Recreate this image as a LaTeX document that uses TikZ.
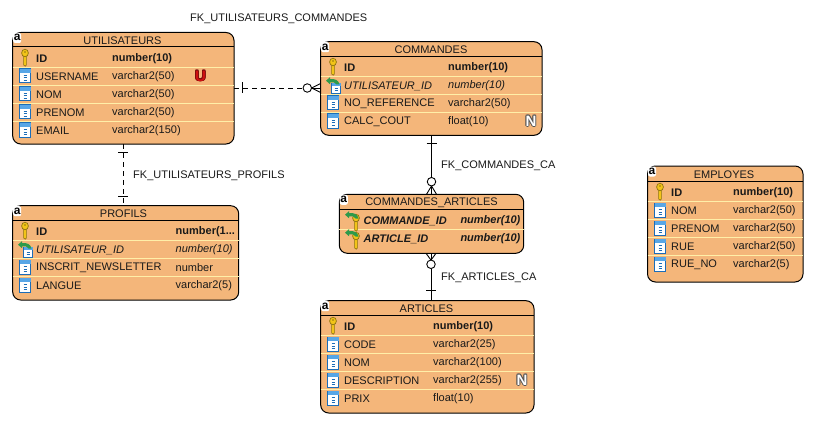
\documentclass[tikz,border=0pt]{standalone}
\usepackage{fontspec}
\setmainfont{Liberation Sans}
\usetikzlibrary{calc}
\definecolor{tblfill}{HTML}{F4B67A}
\definecolor{sepc}{HTML}{FFEFA8}
\definecolor{txt}{HTML}{1A1A1A}
\definecolor{keyf}{HTML}{F2C418}
\definecolor{keyd}{HTML}{8F7410}
\definecolor{colb}{HTML}{1C6DB8}
\definecolor{colh}{HTML}{58A6E6}
\definecolor{gr}{HTML}{2E9A4A}
\definecolor{redm}{HTML}{D01010}
\definecolor{redd}{HTML}{7A0A0A}
\definecolor{grayd}{HTML}{555555}
\tikzset{
  tbl/.style={draw=black,line width=1pt,fill=tblfill,rounded corners=8pt,anchor=north west,inner sep=0pt,outer sep=0pt},
  celltxt/.style={anchor=west,inner sep=0pt,text=txt,font=\fontsize{11}{13}\selectfont},
  cellbold/.style={celltxt,font=\fontsize{11}{13}\selectfont\bfseries},
  cellit/.style={celltxt,font=\fontsize{11}{13}\selectfont\itshape},
  cellbi/.style={celltxt,font=\fontsize{11}{13}\selectfont\bfseries\itshape},
  ttl/.style={anchor=center,inner sep=0pt,text=txt,font=\fontsize{11}{13}\selectfont},
  fklabel/.style={anchor=west,inner sep=0pt,text=txt,font=\fontsize{11}{13}\selectfont},
  conn/.style={line width=.9pt,black},
  dconn/.style={conn,dash pattern=on 5pt off 4pt},
  ring/.style={circle,draw=black,line width=.9pt,minimum size=8.5pt,inner sep=0pt,outer sep=0pt,fill=white},
  markfont/.style={anchor=center,inner sep=0pt,font=\fontsize{15}{16}\selectfont\bfseries},
}
\newcounter{nn}
\newcommand{\cellt}[4]{\stepcounter{nn}\node[#1] (n\thenn) at (#2,#3+1) {#4};}
\newcommand{\tabl}[5]{% name x y w h
  \node[tbl,minimum width=#4pt,minimum height=#5pt] (#1) at (#2,#3) {};
  \fill[white,rounded corners=2pt] (#2+.5,#3+.5) rectangle (#2+8.5,#3+10.5);
  \stepcounter{nn}\node[anchor=center,inner sep=0pt,text=black,font=\fontsize{12}{13}\selectfont\bfseries] (n\thenn) at (#2+4.5,#3+5.2) {a};
}
\newcommand{\hsep}[2]{\draw[sepc,line width=1pt] (#1.west |- 0,#2) -- (#1.east |- 0,#2);}
\newcommand{\hhead}[2]{\draw[black,line width=1pt] (#1.west |- 0,#2) -- (#1.east |- 0,#2);}
\newcommand{\keyicon}[2]{\begin{scope}[shift={(#1,#2)}]
  \draw[keyd,fill=keyf,line width=.6pt] (-1.4,-3) -- (-1.4,7) -- (.2,8.2) -- (1.4,7) -- (1.4,-3) ;
  \draw[keyd,fill=keyf,line width=.7pt] (0,-5) ellipse (3.4 and 3.8);
  \fill[keyd] (0,-6) circle (.9);
\end{scope}}
\newcommand{\colicon}[2]{\begin{scope}[shift={(#1,#2)}]
  \draw[colb,fill=white,line width=1pt] (-5.5,-7) rectangle (5.5,7);
  \fill[colh] (-5.5,-7) rectangle (5.5,-3);
  \draw[colb,line width=1pt] (-1.5,-.5)--(1.5,-.5) (-1.5,2)--(1.5,2) (-1.5,4.5)--(1.5,4.5);
\end{scope}}
\newcommand{\grarrow}[2]{\begin{scope}[shift={(#1,#2)}]
  \fill[gr] (-7,-4.3) -- (-3,-7.8) -- (-3,-5.8) .. controls (2,-6.5) and (5.5,-5) .. (6.5,-.5) -- (3.5,-.5) .. controls (2.5,-2.8) and (0,-3.2) .. (-3,-2.6) -- (-3,-.8) -- cycle;
\end{scope}}
\newcommand{\fkicon}[2]{\begin{scope}[shift={(#1,#2)}]
  \draw[colb,fill=white,line width=.8pt] (-1.5,-2) rectangle (7.5,8);
  \fill[colh] (-1.5,-2) rectangle (7.5,1);
  \draw[colb,line width=.9pt] (1.5,3.2)--(4.5,3.2) (1.5,5.5)--(4.5,5.5);
\end{scope}\grarrow{#1}{#2}}
\newcommand{\fkkey}[2]{\keyicon{#1+1}{#2+3}\grarrow{#1-3}{#2-1}}
\newcommand{\markU}[2]{\foreach \dx/\dy in {-.8/0,.8/0,0/-.8,0/.8,-.6/-.6,.6/-.6,-.6/.6,.6/.6}{\node[markfont,text=redd] at (#1+\dx,#2+\dy) {U};}
  \stepcounter{nn}\node[markfont,text=redm] (n\thenn) at (#1,#2) {U};}
\newcommand{\markN}[2]{\foreach \dx/\dy in {-.9/0,.9/0,0/-.9,0/.9,-.7/-.7,.7/-.7,-.7/.7,.7/.7}{\node[markfont,text=grayd] at (#1+\dx,#2+\dy) {N};}
  \stepcounter{nn}\node[markfont,text=white] (n\thenn) at (#1,#2) {N};}
\begin{document}
\begin{tikzpicture}[x=1pt,y=-1pt]
\useasboundingbox (0,0) rectangle (821,433);
\coordinate (vA) at (123,0); \coordinate (hB) at (0,88); \coordinate (vC) at (431.5,0); \coordinate (vD) at (431,0);

% UTILISATEURS
\tabl{util}{12.7}{32.5}{221.3}{111.5}
\hhead{util}{47} \hsep{util}{67.5} \hsep{util}{85.5} \hsep{util}{103.5} \hsep{util}{121.5}
\cellt{ttl}{122.5}{40}{UTILISATEURS}
\keyicon{25}{58}\colicon{25}{76}\colicon{25}{94}\colicon{25}{112}\colicon{25}{130}
\cellt{cellbold}{36}{58}{ID}\cellt{cellbold}{112}{58}{number(10)}
\cellt{celltxt}{36}{76}{USERNAME}\cellt{celltxt}{112}{76}{varchar2(50)}
\cellt{celltxt}{36}{94}{NOM}\cellt{celltxt}{112}{94}{varchar2(50)}
\cellt{celltxt}{36}{112}{PRENOM}\cellt{celltxt}{112}{112}{varchar2(50)}
\cellt{celltxt}{36}{130}{EMAIL}\cellt{celltxt}{112}{130}{varchar2(150)}
\markU{200.5}{76}

% COMMANDES
\tabl{cmd}{320.7}{41.7}{221.3}{93.6}
\hhead{cmd}{56.3} \hsep{cmd}{76.3} \hsep{cmd}{94.3} \hsep{cmd}{112.3}
\cellt{ttl}{431}{49}{COMMANDES}
\keyicon{333}{67}\fkicon{333}{85}\colicon{333}{103}\colicon{333}{121}
\cellt{cellbold}{344}{67}{ID}\cellt{cellbold}{448}{67}{number(10)}
\cellt{cellit}{344}{85}{UTILISATEUR\_ID}\cellt{cellit}{448}{85}{number(10)}
\cellt{celltxt}{344}{103}{NO\_REFERENCE}\cellt{celltxt}{448}{103}{varchar2(50)}
\cellt{celltxt}{344}{121}{CALC\_COUT}\cellt{celltxt}{448}{121}{float(10)}
\markN{531}{121}

% COMMANDES_ARTICLES
\tabl{ca}{339.3}{194.3}{184.4}{59}
\hhead{ca}{209.3} \hsep{ca}{229}
\cellt{ttl}{431.5}{202}{COMMANDES\_ARTICLES}
\fkkey{355}{220}\fkkey{355}{238}
\cellt{cellbi}{363.5}{220}{COMMANDE\_ID}\cellt{cellbi}{460.3}{220}{number(10)}
\cellt{cellbi}{363.5}{238}{ARTICLE\_ID}\cellt{cellbi}{460.3}{238}{number(10)}

% ARTICLES
\tabl{art}{320.7}{300.7}{213.3}{112.3}
\hhead{art}{315.5} \hsep{art}{335.5} \hsep{art}{353.5} \hsep{art}{371.5} \hsep{art}{389.5}
\cellt{ttl}{426.5}{308}{ARTICLES}
\keyicon{333}{326}\colicon{333}{344}\colicon{333}{362}\colicon{333}{380}\colicon{333}{398}
\cellt{cellbold}{344}{326}{ID}\cellt{cellbold}{433}{326}{number(10)}
\cellt{celltxt}{344}{344}{CODE}\cellt{celltxt}{433}{344}{varchar2(25)}
\cellt{celltxt}{344}{362}{NOM}\cellt{celltxt}{433}{362}{varchar2(100)}
\cellt{celltxt}{344}{380}{DESCRIPTION}\cellt{celltxt}{433}{380}{varchar2(255)}
\cellt{celltxt}{344}{398}{PRIX}\cellt{celltxt}{433}{398}{float(10)}
\markN{522}{380}

% PROFILS
\tabl{prof}{12.7}{205.7}{226}{94.3}
\hhead{prof}{220.3} \hsep{prof}{240} \hsep{prof}{258} \hsep{prof}{276}
\cellt{ttl}{123.5}{213}{PROFILS}
\keyicon{25}{231}\fkicon{25}{249}\colicon{25}{267}\colicon{25}{285}
\cellt{cellbold}{36}{231}{ID}\cellt{cellbold}{175.5}{231}{number(1...}
\cellt{cellit}{36}{249}{UTILISATEUR\_ID}\cellt{cellit}{175.5}{249}{number(10)}
\cellt{celltxt}{36}{267}{INSCRIT\_NEWSLETTER}\cellt{celltxt}{175.5}{267}{number}
\cellt{celltxt}{36}{285}{LANGUE}\cellt{celltxt}{175.5}{285}{varchar2(5)}

% EMPLOYES
\tabl{emp}{647.5}{166}{155.5}{116}
\hhead{emp}{181} \hsep{emp}{201} \hsep{emp}{219} \hsep{emp}{237} \hsep{emp}{255}
\cellt{ttl}{724}{174}{EMPLOYES}
\keyicon{660}{192}\colicon{660}{210}\colicon{660}{228}\colicon{660}{246}\colicon{660}{264}
\cellt{cellbold}{671}{192}{ID}\cellt{cellbold}{733}{192}{number(10)}
\cellt{celltxt}{671}{210}{NOM}\cellt{celltxt}{733}{210}{varchar2(50)}
\cellt{celltxt}{671}{228}{PRENOM}\cellt{celltxt}{733}{228}{varchar2(50)}
\cellt{celltxt}{671}{246}{RUE}\cellt{celltxt}{733}{246}{varchar2(50)}
\cellt{celltxt}{671}{264}{RUE\_NO}\cellt{celltxt}{733}{264}{varchar2(5)}

% labels
\cellt{fklabel}{190}{18}{FK\_UTILISATEURS\_COMMANDES}
\cellt{fklabel}{133}{175}{FK\_UTILISATEURS\_PROFILS}
\cellt{fklabel}{441}{165}{FK\_COMMANDES\_CA}
\cellt{fklabel}{441}{277}{FK\_ARTICLES\_CA}

% util -- commandes
\node[ring] (r1) at (307.3,88) {};
\draw[dconn] (util.east |- hB) -- (r1.west);
\draw[conn] (r1.east |- hB) -- (cmd.west |- hB);
\draw[conn] (242.5,82.5) -- (242.5,93.5);
\draw[conn] (r1.east) -- (cmd.west |- 0,83.5) (r1.east) -- (cmd.west |- 0,92.5);
% util -- profils
\draw[dconn] (util.south -| vA) -- (prof.north -| vA);
\draw[conn] (118,152.3) -- (128,152.3) (118,196.3) -- (128,196.3);
% commandes -- ca
\node[ring] (r2) at (431.5,181.7) {};
\draw[conn] (cmd.south -| vC) -- (r2.north);
\draw[conn] (r2.south) -- (ca.north -| vC);
\draw[conn] (426.5,143.3) -- (436.5,143.3);
\draw[conn] (r2.south) -- (426.5,194.3) (r2.south) -- (436.5,194.3);
% ca -- articles
\node[ring] (r3) at (431,264.3) {};
\draw[conn] (ca.south -| vD) -- (r3.north);
\draw[conn] (r3.south) -- (art.north -| vD);
\draw[conn] (426,290.3) -- (436,290.3);
\draw[conn] (r3.north) -- (426,253.3) (r3.north) -- (436,253.3);
\end{tikzpicture}
\end{document}
